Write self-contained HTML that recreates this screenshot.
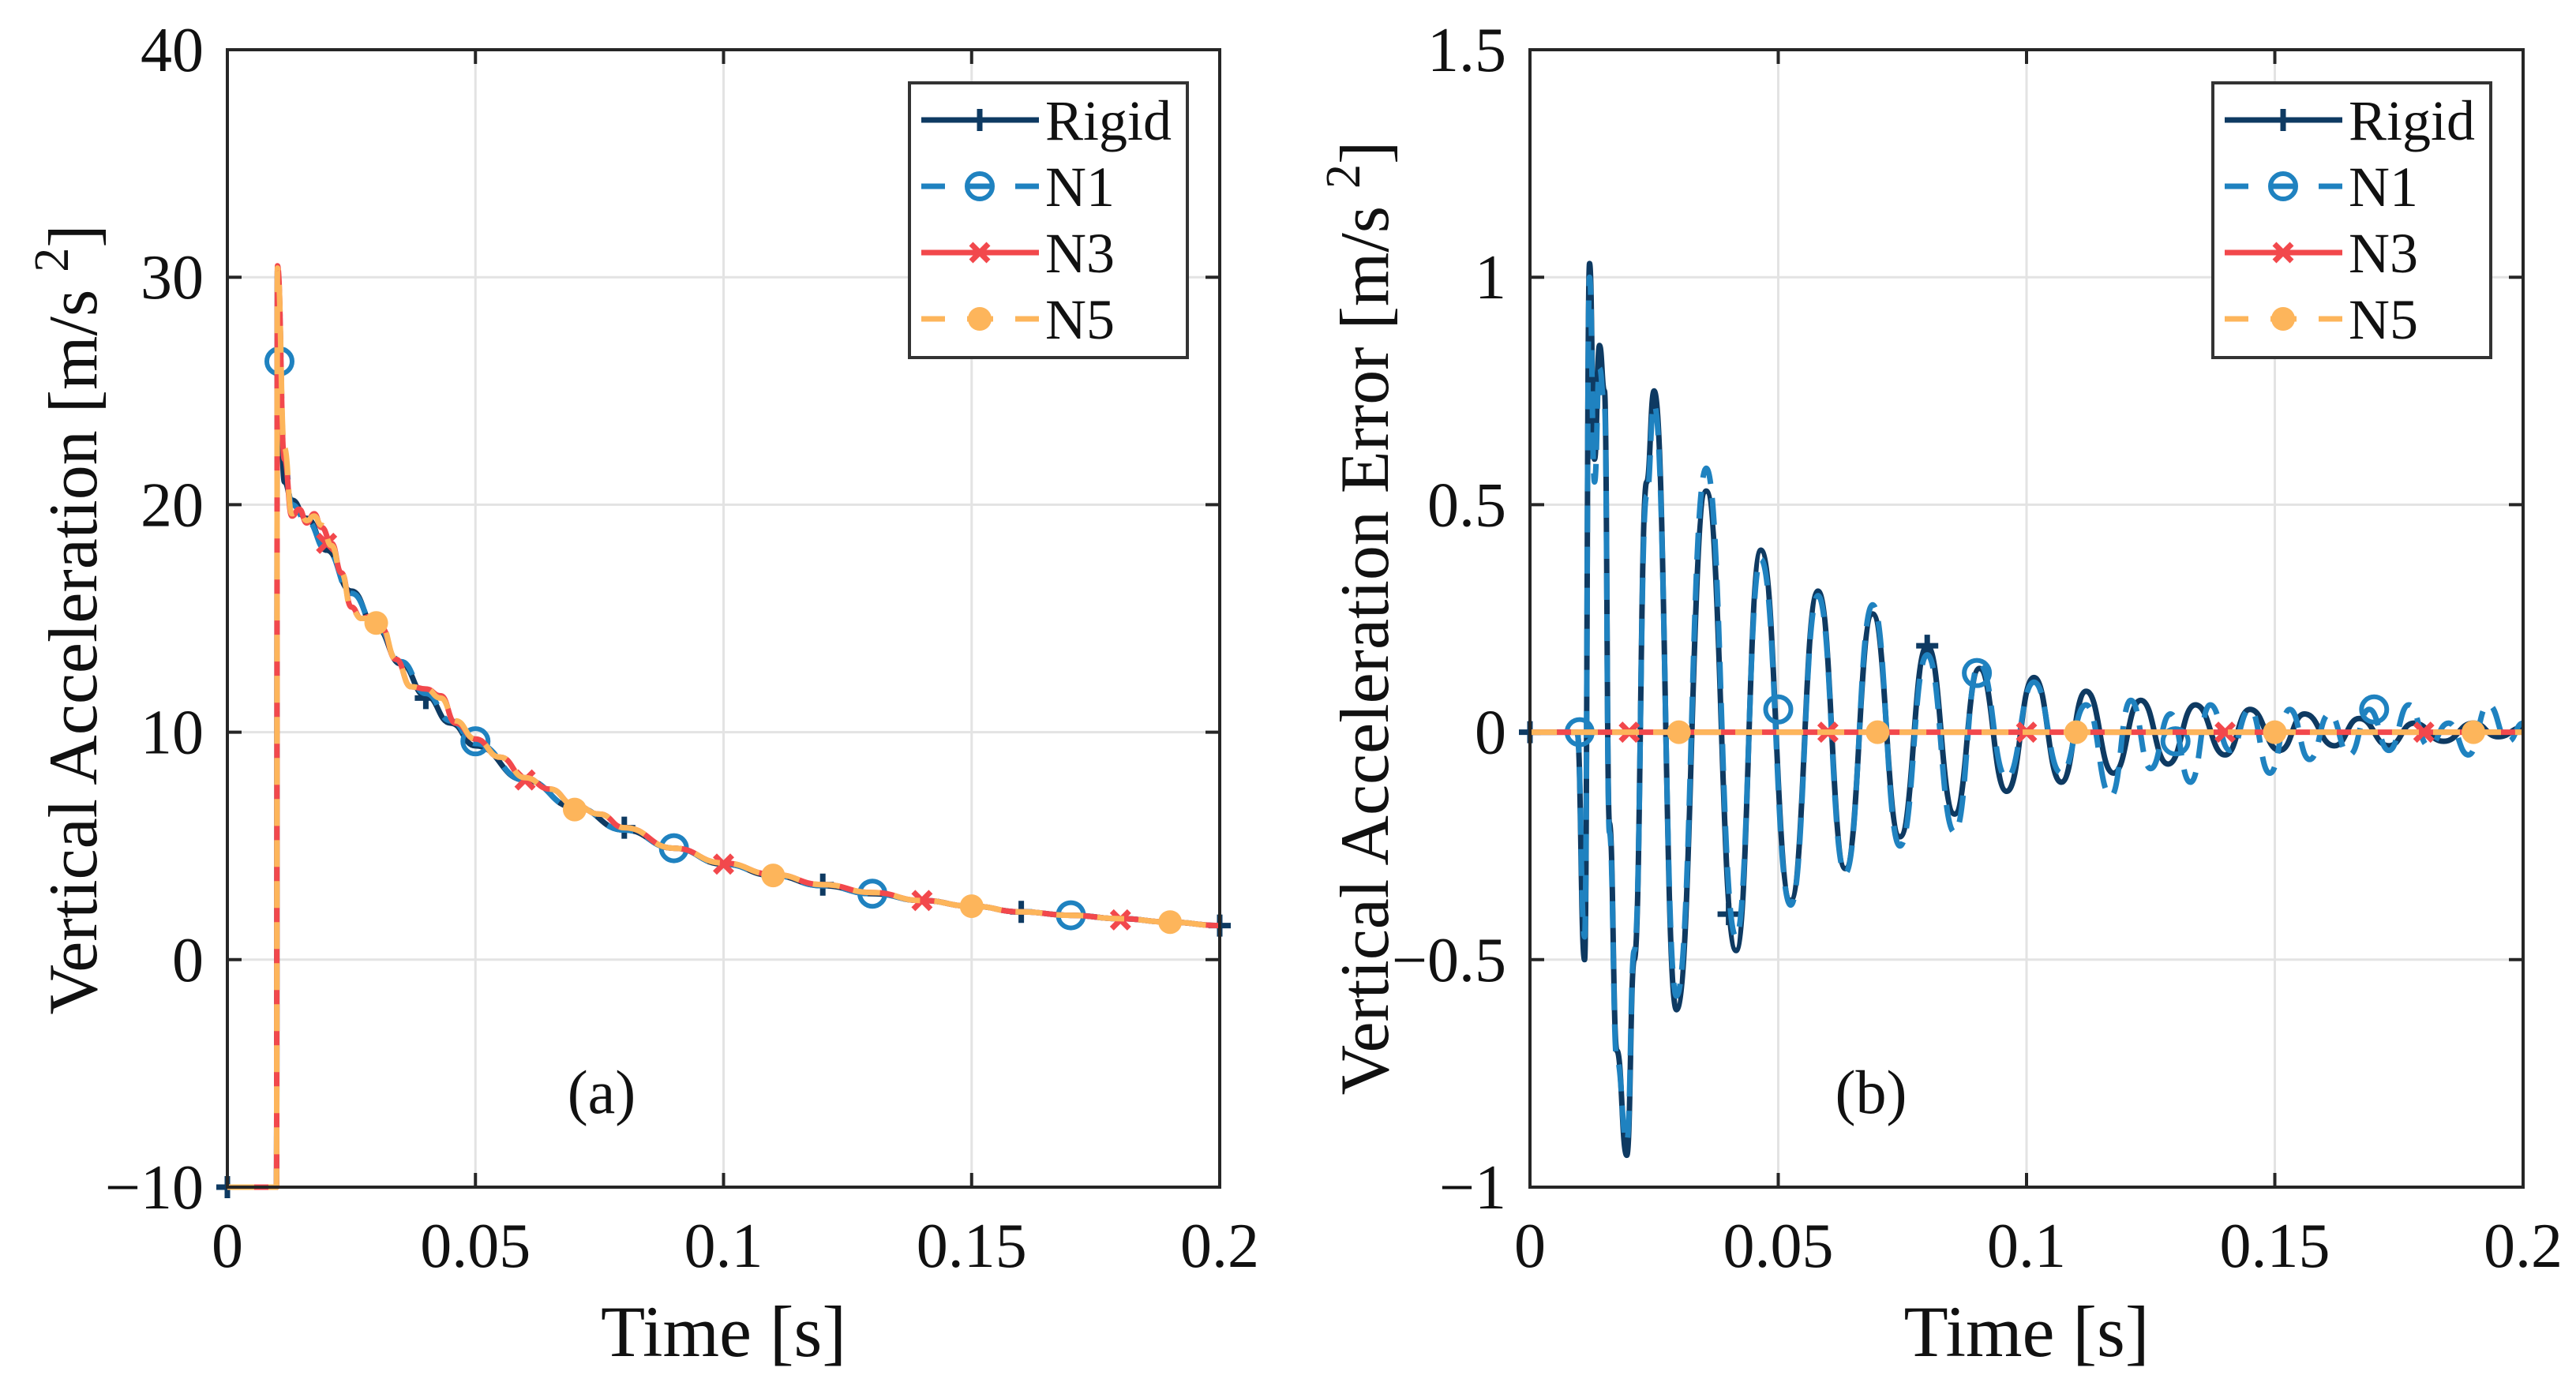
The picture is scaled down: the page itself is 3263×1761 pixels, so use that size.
<!DOCTYPE html>
<html><head><meta charset="utf-8"><style>
html,body{margin:0;padding:0;background:#fff;}
svg{display:block;font-family:"Liberation Serif","DejaVu Serif",serif;}
</style></head><body>
<svg id="fig" width="3263" height="1761" viewBox="0 0 3263 1761" xmlns="http://www.w3.org/2000/svg"></svg>
<script>
// ---------- Data: panel (a) ----------
const aRigidT = [0,0.0099,0.0101,0.0115,0.013,0.016,0.02,0.025,0.03,0.035,0.04,0.045,0.05,0.06,0.07,0.08,0.09,0.1,0.11,0.12,0.13,0.14,0.15,0.16,0.17,0.18,0.19,0.2];
const aRigidY = [-10,-10,30.3,21,20.2,19.4,18.0,16.2,14.6,13.0,11.6,10.4,9.4,7.9,6.7,5.7,4.9,4.2,3.7,3.25,2.9,2.6,2.35,2.1,1.95,1.8,1.65,1.5];
const aN3T = [0,0.0099,0.0101,0.0115,0.013,0.0145,0.016,0.0175,0.019,0.021,0.023,0.025,0.027,0.029,0.031,0.034,0.037,0.04,0.043,0.046,0.05,0.055,0.06,0.065,0.07,0.075,0.08,0.09,0.1,0.11,0.12,0.13,0.14,0.15,0.16,0.17,0.18,0.19,0.2];
const aN3Y = [-10,-10,30.5,22,19.5,19.8,19.2,19.6,19.0,18.3,17.0,15.5,15.0,15.1,14.6,13.2,12.0,11.9,11.6,10.4,9.7,8.9,8.0,7.5,6.8,6.4,5.8,4.9,4.25,3.75,3.3,2.95,2.6,2.35,2.1,1.95,1.8,1.65,1.5];
const aN1T = aRigidT;
const aN1Y = [-10,-10,30.3,22,20,19.3,18.0,16.1,14.7,13.1,11.7,10.5,9.5,7.9,6.7,5.7,4.9,4.2,3.7,3.25,2.9,2.6,2.35,2.1,1.95,1.8,1.65,1.5];
const aN5T = aN3T;
const aN5Y = [-10,-10,30.4,22.5,19.6,19.7,19.3,19.5,19.1,18.2,17.0,15.4,15.0,15.0,14.7,13.2,12.0,11.9,11.5,10.5,9.7,8.9,8.0,7.5,6.8,6.4,5.8,4.9,4.25,3.75,3.3,2.95,2.6,2.35,2.1,1.95,1.8,1.65,1.5];
const aRigidMarkT = [0,0.04,0.08,0.12,0.16,0.2];
const aRigidMarkY = [-10,11.5,5.8,3.3,2.1,1.5];
const aN1MarkT = [0.0105,0.05,0.09,0.13,0.17];
const aN1MarkY = [26.3,9.6,4.9,2.9,1.95];
const aN3MarkT = [0.02,0.06,0.1,0.14,0.18];
const aN3MarkY = [18.3,7.9,4.2,2.6,1.75];
const aN5MarkT = [0.03,0.07,0.11,0.15,0.19];
const aN5MarkY = [14.8,6.6,3.7,2.35,1.65];
const aYTicks = [-10,0,10,20,30,40];
const aYTickLabels = ["\u221210","0","10","20","30","40"];
const xTicks = [0,0.05,0.1,0.15,0.2];
const xTickLabels = ["0","0.05","0.1","0.15","0.2"];

// ---------- Data: panel (b) ----------
const bRigidT = [0,0.0095,0.011,0.012,0.013,0.014,0.015,0.016,0.0175,0.0195,0.021,0.0235,0.025,0.0295,0.0355,0.0415,0.0465,0.0525,0.058,0.0635,0.069,0.0745,0.0800,0.0855,0.0905,0.096,0.1015,0.107,0.112,0.1175,0.123,0.1285,0.134,0.14,0.145,0.151,0.156,0.162,0.167,0.173,0.178,0.184,0.19,0.195,0.2];
const bRigidY = [0,0,-0.5,1.03,0.6,0.85,0.75,-0.2,-0.7,-0.93,-0.5,0.55,0.75,-0.61,0.53,-0.48,0.4,-0.37,0.31,-0.3,0.26,-0.23,0.19,-0.18,0.14,-0.13,0.12,-0.11,0.09,-0.09,0.07,-0.07,0.06,-0.05,0.05,-0.04,0.04,-0.03,0.03,-0.03,0.02,-0.02,0.02,-0.01,0.01];
const bN1T = [0,0.0095,0.011,0.012,0.013,0.014,0.015,0.016,0.0175,0.0195,0.021,0.0235,0.025,0.0295,0.0355,0.0415,0.0465,0.0525,0.058,0.0635,0.069,0.0745,0.0800,0.0855,0.0905,0.096,0.1015,0.107,0.112,0.117,0.121,0.125,0.129,0.133,0.137,0.141,0.145,0.149,0.153,0.157,0.161,0.165,0.169,0.173,0.177,0.181,0.185,0.189,0.193,0.197,0.2];
const bN1Y = [0,0,-0.45,1.0,0.55,0.8,0.72,-0.22,-0.72,-0.9,-0.48,0.52,0.72,-0.58,0.58,-0.45,0.38,-0.38,0.3,-0.31,0.28,-0.25,0.17,-0.22,0.15,-0.1,0.11,-0.09,0.06,-0.14,0.07,-0.08,0.04,-0.11,0.06,-0.04,0.05,-0.09,0.05,-0.06,0.04,-0.05,0.05,-0.04,0.06,-0.03,0.02,-0.05,0.06,-0.02,0.02];
const bZeroT = [0,0.2];
const bZeroY = [0,0];
const bRigidMarkT = [0,0.04,0.08];
const bRigidMarkY = [0,-0.4,0.19];
const bN1MarkT = [0.01,0.05,0.09,0.13,0.17];
const bN1MarkY = [0,0.05,0.13,-0.02,0.05];
const bN3MarkT = [0.02,0.06,0.1,0.14,0.18];
const bN3MarkY = [0,0,0,0,0];
const bN5MarkT = [0.03,0.07,0.11,0.15,0.19];
const bN5MarkY = [0,0,0,0,0];
const bYTicks = [-1,-0.5,0,0.5,1,1.5];
const bYTickLabels = ["\u22121","\u22120.5","0","0.5","1","1.5"];

// ---------- Drawing ----------
const NS = "http://www.w3.org/2000/svg";
const svg = document.getElementById('fig');
const C = {rigid:"#0e3a62", n1:"#1f82c0", n3:"#f2484c", n5:"#fdb55b"};
function el(tag, attrs, parent){
  const e = document.createElementNS(NS, tag);
  for (const k in attrs) e.setAttribute(k, attrs[k]);
  (parent||svg).appendChild(e);
  return e;
}
function smoothPath(xs, ys, X, Y){
  let d = "M" + X(xs[0]) + "," + Y(ys[0]);
  for (let i=1;i<xs.length;i++){
    const x0=X(xs[i-1]), y0=Y(ys[i-1]), x1=X(xs[i]), y1=Y(ys[i]);
    const m=(x0+x1)/2;
    d += " C" + m + "," + y0 + " " + m + "," + y1 + " " + x1 + "," + y1;
  }
  return d;
}
function marker(g, type, cx, cy, color){
  const s = 14;
  if (type==='plus'){
    el('path',{d:`M${cx-s},${cy}H${cx+s}M${cx},${cy-s}V${cy+s}`,stroke:color,'stroke-width':7,fill:'none'},g);
  } else if (type==='circle'){
    el('circle',{cx:cx,cy:cy,r:16,stroke:color,'stroke-width':6,fill:'none'},g);
  } else if (type==='x'){
    el('path',{d:`M${cx-11},${cy-11}L${cx+11},${cy+11}M${cx-11},${cy+11}L${cx+11},${cy-11}`,stroke:color,'stroke-width':7,fill:'none'},g);
  } else {
    el('circle',{cx:cx,cy:cy,r:15,fill:color},g);
  }
}
function panel(o){
  const L=o.left,R=o.right,T=63,B=1504;
  const X = v => L + (v-0)/(0.2-0)*(R-L);
  const Y = v => B - (v-o.ymin)/(o.ymax-o.ymin)*(B-T);
  const g = el('g',{});
  
  
  // grid
  const grid = el('g',{},g);
  
  
  xTicks.forEach(t=>{ el('line',{x1:X(t),x2:X(t),y1:T,y2:B,stroke:'#e3e3e3','stroke-width':3},grid); });
  o.yTicks.forEach(t=>{ el('line',{x1:L,x2:R,y1:Y(t),y2:Y(t),stroke:'#e3e3e3','stroke-width':3},grid); });
  // tick labels
  const xt = el('g',{},g);
  
  
  xTicks.forEach((t,i)=>{
    const tx = el('text',{x:X(t),y:1605,'text-anchor':'middle','font-size':80,fill:'#111'},xt);
    tx.textContent = xTickLabels[i];
    el('line',{x1:X(t),x2:X(t),y1:B,y2:B-18,stroke:'#262626','stroke-width':4},g);
    el('line',{x1:X(t),x2:X(t),y1:T,y2:T+18,stroke:'#262626','stroke-width':4},g);
  });
  const yt = el('g',{},g);
  
  
  o.yTicks.forEach((t,i)=>{
    const tx = el('text',{x:L-30,y:Y(t)+27,'text-anchor':'end','font-size':80,fill:'#111'},yt);
    tx.textContent = o.yTickLabels[i];
    el('line',{x1:L,x2:L+18,y1:Y(t),y2:Y(t),stroke:'#262626','stroke-width':4},g);
    el('line',{x1:R,x2:R-18,y1:Y(t),y2:Y(t),stroke:'#262626','stroke-width':4},g);
  });
  // series
  o.series.forEach(s=>{
    const sg = el('g',{},g);
    
    
    const p = el('path',{d:smoothPath(s.t,s.y,X,Y),fill:'none',stroke:s.color,'stroke-width':7,'stroke-linejoin':'round'},sg);
    if (s.dash) p.setAttribute('stroke-dasharray', s.dash);
    s.mt.forEach((t,i)=>marker(sg, s.marker, X(t), Y(s.my[i]), s.color));
  });
  // axes box
  const box = el('rect',{x:L,y:T,width:R-L,height:B-T,fill:'none',stroke:'#262626','stroke-width':4},g);
  
  
  // axis titles
  const xl = el('text',{x:(L+R)/2,y:1718,'text-anchor':'middle','font-size':92,fill:'#111'},g);
  xl.textContent = 'Time [s]';
  
  
  const yl = el('text',{x:0,y:0,'text-anchor':'middle','font-size':88,fill:'#111',transform:`translate(${o.ylabX},${o.ylabY}) rotate(-90)`},g);
  
  
  const t1 = el('tspan',{},yl); t1.textContent = o.ylabel + ' [m/s ';
  const t2 = el('tspan',{dy:-36,'font-size':62},yl); t2.textContent = '2';
  const t3 = el('tspan',{dy:36},yl); t3.textContent = ']';
  const pl = el('text',{x:o.tagX,y:1410,'text-anchor':'middle','font-size':78,fill:'#111'},g);
  pl.textContent = o.tag;
  
  
  // legend
  const lx = R-393, ly = 105;
  const lg = el('g',{},g);
  
  
  el('rect',{x:lx,y:ly,width:352,height:348,fill:'#fff',stroke:'#333','stroke-width':4},lg);
  const names=['Rigid','N1','N3','N5'];
  o.series.forEach((s,i)=>{
    const eg = el('g',{},lg);
    
    
    const cy = ly + 47 + i*84;
    const ln = el('line',{x1:lx+15,x2:lx+164,y1:cy,y2:cy,stroke:s.color,'stroke-width':7},eg);
    if (s.dash) ln.setAttribute('stroke-dasharray','30 28 33 28 30');
    marker(eg, s.marker, lx+89, cy, s.color);
    const tx = el('text',{x:lx+172,y:cy+25,'font-size':72,fill:'#111'},eg);
    tx.textContent = names[i];
  });
}
panel({name:'panel-a',left:288,right:1545,ymin:-10,ymax:40,yTicks:aYTicks,yTickLabels:aYTickLabels,
  ylabel:'Vertical Acceleration',ylabX:122,ylabY:785,tag:'(a)',tagX:762,
  series:[
    {name:'series-rigid',t:aRigidT,y:aRigidY,mt:aRigidMarkT,my:aRigidMarkY,color:C.rigid,marker:'plus'},
    {name:'series-n1',t:aN1T,y:aN1Y,mt:aN1MarkT,my:aN1MarkY,color:C.n1,marker:'circle',dash:'34 18'},
    {name:'series-n3',t:aN3T,y:aN3Y,mt:aN3MarkT,my:aN3MarkY,color:C.n3,marker:'x'},
    {name:'series-n5',t:aN5T,y:aN5Y,mt:aN5MarkT,my:aN5MarkY,color:C.n5,marker:'star',dash:'34 18'}
  ]});
panel({name:'panel-b',left:1938,right:3196,ymin:-1,ymax:1.5,yTicks:bYTicks,yTickLabels:bYTickLabels,
  ylabel:'Vertical Acceleration Error',ylabX:1758,ylabY:783,tag:'(b)',tagX:2370,
  series:[
    {name:'series-rigid',t:bRigidT,y:bRigidY,mt:bRigidMarkT,my:bRigidMarkY,color:C.rigid,marker:'plus'},
    {name:'series-n1',t:bN1T,y:bN1Y,mt:bN1MarkT,my:bN1MarkY,color:C.n1,marker:'circle',dash:'34 18'},
    {name:'series-n3',t:bZeroT,y:bZeroY,mt:bN3MarkT,my:bN3MarkY,color:C.n3,marker:'x'},
    {name:'series-n5',t:bZeroT,y:bZeroY,mt:bN5MarkT,my:bN5MarkY,color:C.n5,marker:'star',dash:'34 18'}
  ]});
</script>
</body></html>
